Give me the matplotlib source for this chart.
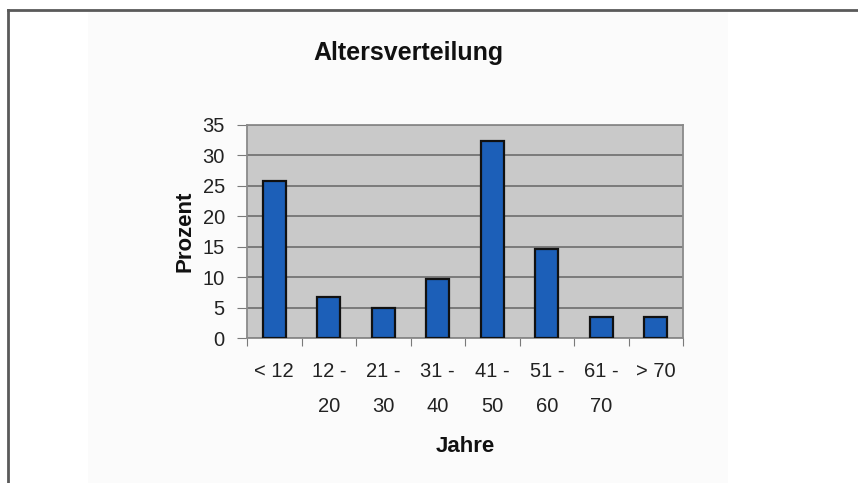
import matplotlib.pyplot as plt
from matplotlib.lines import Line2D
from matplotlib.patches import Rectangle
import numpy as np

plt.rcParams['font.family'] = ['Liberation Sans', 'DejaVu Sans']

# Altersgruppen und Anteile (Prozent)
gruppen = ["< 12", "12 -\n20", "21 -\n30", "31 -\n40", "41 -\n50", "51 -\n60", "61 -\n70", "> 70"]
prozent = [25.8, 6.8, 5.0, 9.7, 32.3, 14.7, 3.4, 3.4]
y_ticks = [0, 5, 10, 15, 20, 25, 30, 35]

W, H = 858, 483
fig = plt.figure(figsize=(W / 100, H / 100), dpi=100)
fig.patch.set_facecolor('white')

# leicht getönter Diagrammbereich + Rahmen
fig.add_artist(Rectangle((88 / W, 0), (728 - 88) / W, 1 - 11 / H,
                         transform=fig.transFigure, facecolor='#fbfbfb',
                         edgecolor='none', zorder=-10))
fig.add_artist(Line2D([8 / W, 1], [1 - 10 / H, 1 - 10 / H],
                      transform=fig.transFigure, color='#5a5a5a', lw=2))
fig.add_artist(Line2D([8 / W, 8 / W], [0, 1 - 10 / H],
                      transform=fig.transFigure, color='#5a5a5a', lw=2))

ax = fig.add_axes([247 / W, 1 - 338 / H, (683 - 247) / W, (338 - 125) / H])
ax.set_facecolor('#c9c9c9')

x = np.arange(len(gruppen))
ax.bar(x, prozent, width=0.43, color='#1c5fb8', edgecolor='#111111',
       linewidth=1.6, zorder=3)

ax.set_xlim(-0.5, len(gruppen) - 0.5)
ax.set_ylim(0, 35)
ax.set_yticks(y_ticks)
ax.yaxis.grid(True, color='#747474', linewidth=1.3, zorder=1)
ax.set_axisbelow(True)

# x-Ticks an den Kategoriegrenzen, Beschriftung in der Mitte
ax.set_xticks(np.arange(len(gruppen) + 1) - 0.5)
ax.set_xticklabels([])
ax.set_xticks(x, minor=True)
ax.set_xticklabels(gruppen, minor=True, fontsize=14.5, color='#222222',
                   linespacing=2.1, va='top')
ax.tick_params(axis='x', which='minor', length=0, pad=17)
ax.tick_params(axis='x', which='major', length=6, color='#7a7a7a', direction='out')
ax.tick_params(axis='y', length=7, color='#7a7a7a', labelsize=14.5,
               labelcolor='#222222', pad=9)

for side in ['top', 'right', 'left', 'bottom']:
    ax.spines[side].set_color('#8a8a8a')
    ax.spines[side].set_linewidth(1.3)

ax.set_ylabel('Prozent', fontsize=16, fontweight='bold', color='#111111', labelpad=5)
ax.set_xlabel('Jahre', fontsize=16, fontweight='bold', color='#111111', labelpad=14)

fig.text(408 / W, 1 - 53 / H, 'Altersverteilung', fontsize=18, fontweight='bold',
         color='#111111', ha='center', va='center')

fig.savefig('out.png', dpi=100)
